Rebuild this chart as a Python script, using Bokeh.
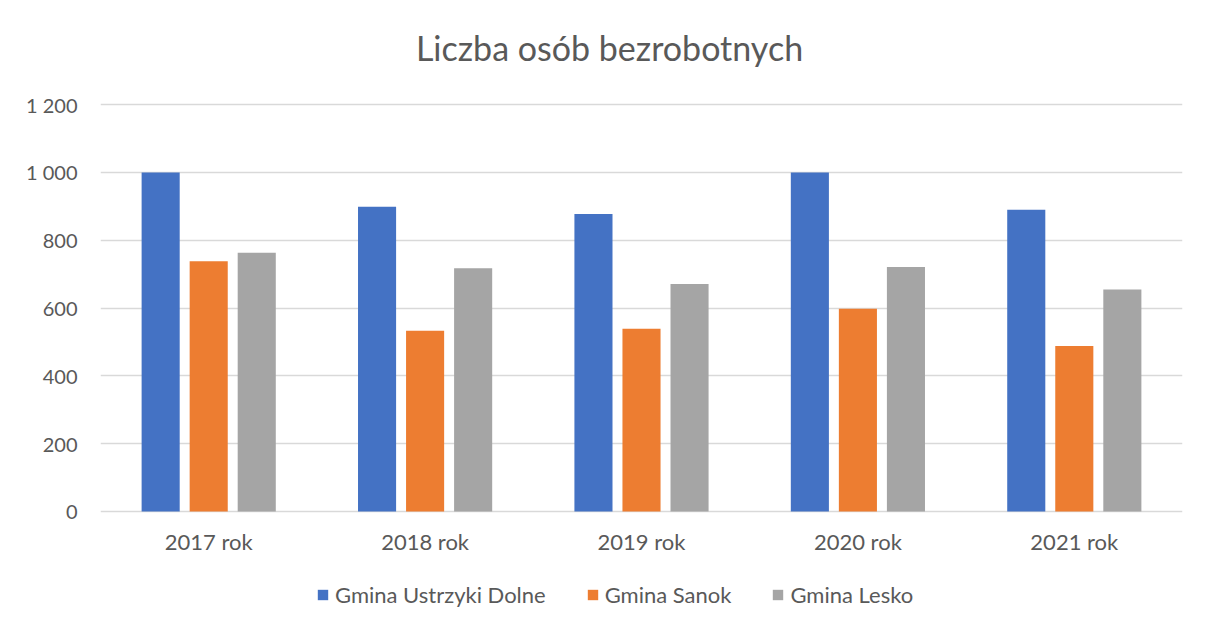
from bokeh.plotting import figure
from bokeh.models import FactorRange, Range1d, FixedTicker, Legend, LegendItem, Label, ColumnDataSource
from bokeh.transform import dodge
from bokeh.embed import file_html
from bokeh.resources import INLINE

# ---- data ----
years = ["2017 rok", "2018 rok", "2019 rok", "2020 rok", "2021 rok"]
ustrzyki = [1000, 899, 877, 1000, 890]
sanok = [738, 533, 539, 598, 488]
lesko = [763, 717, 671, 721, 655]
series_names = ["Gmina Ustrzyki Dolne", "Gmina Sanok", "Gmina Lesko"]
y_ticks = [0, 200, 400, 600, 800, 1000, 1200]
y_tick_labels = ["0", "200", "400", "600", "800", "1 000", "1 200"]
title_text = "Liczba osób bezrobotnych"

colors = ["#4472C4", "#ED7D31", "#A5A5A5"]
FONT = "Lato"
TXT = "#595959"

source = ColumnDataSource(dict(year=years, s0=ustrzyki, s1=sanok, s2=lesko))

# the frame spans the full height; the room above 1200 holds the title and the room
# below 0 holds the category labels and the legend
p = figure(width=1206, height=630, x_range=FactorRange(*years), y_range=Range1d(-351, 1507),
           output_backend="svg", toolbar_location=None,
           min_border_left=100, min_border_right=24, min_border_top=0, min_border_bottom=0)
p.outline_line_color = None
p.background_fill_color = "white"
p.border_fill_color = "white"

offsets = [-0.222, 0.0, 0.222]
renderers = []
for i, key in enumerate(["s0", "s1", "s2"]):
    r = p.vbar(x=dodge("year", offsets[i], range=p.x_range), top=key, bottom=0, width=0.176,
               source=source, fill_color=colors[i], line_color=None)
    renderers.append(r)

p.xgrid.grid_line_color = None
p.ygrid.grid_line_color = "#d9d9d9"
p.ygrid.grid_line_width = 1.3
p.yaxis.ticker = FixedTicker(ticks=y_ticks)
p.yaxis.major_label_overrides = {t: l for t, l in zip(y_ticks, y_tick_labels)}
p.xaxis.fixed_location = 0
for ax in (p.xaxis[0], p.yaxis[0]):
    ax.axis_line_color = None
    ax.major_tick_line_color = None
    ax.minor_tick_line_color = None
    ax.major_label_text_font = FONT
    ax.major_label_text_color = TXT
p.xaxis.major_label_text_font_size = "22px"
p.yaxis.major_label_text_font_size = "20px"
p.yaxis.major_label_standoff = 17
p.xaxis.major_label_standoff = 11

title = Label(x=509, y=583, x_units="screen", y_units="screen", text=title_text,
              text_align="center", text_baseline="alphabetic", text_font=FONT,
              text_font_size="34px", text_color=TXT)
p.add_layout(title)

lg = Legend(items=[LegendItem(label=series_names[i], renderers=[renderers[i]]) for i in range(3)],
            location=(216, 22), orientation="horizontal",
            label_text_font=FONT, label_text_font_size="22px", label_text_color=TXT,
            glyph_width=13, glyph_height=13, label_standoff=6, padding=0, margin=0,
            spacing=40, border_line_color=None, background_fill_alpha=0)
p.add_layout(lg, "center")

open("out.html", "w").write(file_html(p, INLINE))
